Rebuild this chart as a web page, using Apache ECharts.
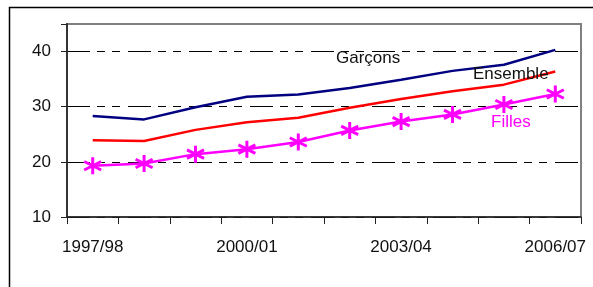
<!DOCTYPE html>
<html><head><meta charset="utf-8">
<script src="https://cdn.jsdelivr.net/npm/echarts@6/dist/echarts.min.js"></script>
<style>html,body{margin:0;padding:0;background:#fff}#c{width:593px;height:287px}</style>
</head><body><div id="c"></div>
<script>
const categories = ['1997/98','1998/99','1999/00','2000/01','2001/02','2002/03','2003/04','2004/05','2005/06','2006/07'];
const garcons = [28.3, 27.7, 29.9, 31.8, 32.2, 33.4, 34.9, 36.5, 37.6, 40.3];
const ensemble = [23.9, 23.8, 25.8, 27.2, 28.0, 29.8, 31.4, 32.8, 34.0, 36.4];
const filles = [19.3, 19.7, 21.4, 22.3, 23.6, 25.7, 27.3, 28.6, 30.4, 32.3];
const yTicks = [10, 20, 30, 40];

const FONT = 'Liberation Sans, Arial, sans-serif';
const star = 'path://M0,-1L0,1M-0.87,-0.5L0.87,0.5M-0.87,0.5L0.87,-0.5';
const chart = echarts.init(document.getElementById('c'), null, {renderer:'canvas'});
chart.setOption({
  animation: false,
  backgroundColor: '#fff',
  grid: {left: 67, right: 12, top: 24, bottom: 70, show: true, borderColor: '#808080', borderWidth: 2, containLabel: false},
  xAxis: {
    type: 'category', data: categories, boundaryGap: true,
    axisLine: {lineStyle: {color: '#222', width: 1.5}},
    axisTick: {show: true, interval: 0, length: 7, lineStyle: {color: '#222'}},
    axisLabel: {interval: 2, margin: 22, color: '#111', fontSize: 17, fontFamily: FONT},
    splitLine: {show: false}
  },
  yAxis: {
    type: 'value', min: 10, max: 45, interval: 10,
    axisLine: {show: true, lineStyle: {color: '#333', width: 2}},
    axisTick: {show: true, length: 6, lineStyle: {color: '#222'}},
    axisLabel: {margin: 16, color: '#111', fontSize: 17, fontFamily: FONT,
      formatter: v => yTicks.includes(v) ? String(v) : ''},
    splitLine: {show: true, lineStyle: {color: ['#000','#000','#000','#000','rgba(0,0,0,0)'], width: 1, type: [23, 7, 8, 7, 8, 8]}}
  },
  series: [
    {name: 'Garçons', type: 'line', data: garcons, showSymbol: false, symbol: 'none',
      lineStyle: {color: '#000080', width: 2.5}, z: 3},
    {name: 'Ensemble', type: 'line', data: ensemble, showSymbol: false, symbol: 'none',
      lineStyle: {color: '#ff0000', width: 2.5}, z: 3},
    {name: 'Filles', type: 'line', data: filles, symbol: star, symbolSize: 17,
      itemStyle: {color: '#ff00ff', borderColor: '#ff00ff', borderWidth: 3},
      lineStyle: {color: '#ff00ff', width: 2.5}, z: 4}
  ],
  graphic: [
    {type: 'rect', left: 7, top: 5, shape: {width: 620, height: 320}, style: {fill: 'none', stroke: '#000', lineWidth: 1.5}, z: -1, silent: true},
    {type: 'text', left: 336, top: 50, style: {text: 'Garçons', fill: '#111', font: '17px ' + FONT}, z: 10},
    {type: 'text', left: 473, top: 66, style: {text: 'Ensemble', fill: '#111', font: '17px ' + FONT}, z: 10},
    {type: 'text', left: 491, top: 114, style: {text: 'Filles', fill: '#ff00ff', font: '17px ' + FONT}, z: 10}
  ]
});
</script></body></html>
